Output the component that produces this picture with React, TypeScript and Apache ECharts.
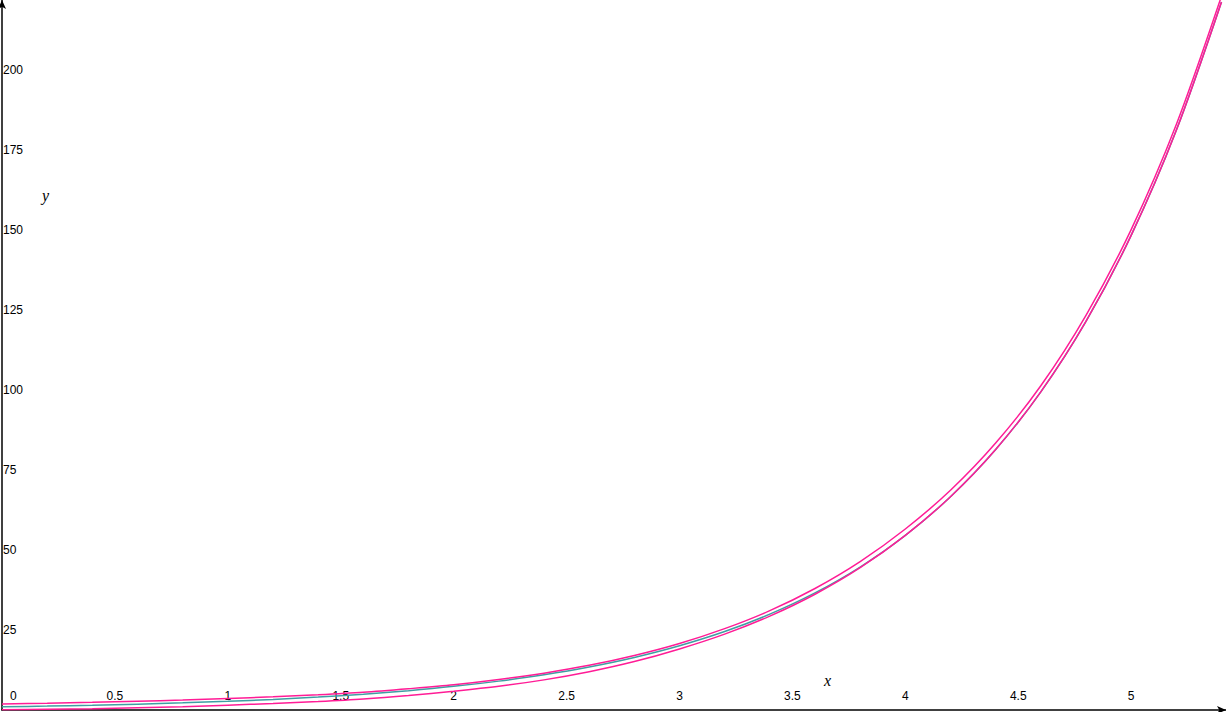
import { useEffect, useRef } from 'react';
import * as echarts from 'echarts';

// x positions (step 0.2)
const xs = [
  0, 0.2, 0.4, 0.6, 0.8, 1.0, 1.2, 1.4, 1.6, 1.8, 2.0, 2.2, 2.4, 2.6,
  2.8, 3.0, 3.2, 3.4, 3.6, 3.8, 4.0, 4.2, 4.4, 4.6, 4.8, 5.0, 5.2, 5.4,
];

// middle curve (teal)
const midValues = [
  1.0, 1.22, 1.49, 1.82, 2.23, 2.72, 3.32, 4.06, 4.95, 6.05, 7.39, 9.03,
  11.02, 13.46, 16.44, 20.09, 24.53, 29.96, 36.6, 44.7, 54.6, 66.69, 81.45,
  99.48, 121.51, 148.41, 181.27, 221.41,
];

// upper band (magenta)
const upperValues = [
  1.9, 2.12, 2.39, 2.72, 3.13, 3.62, 4.12, 4.76, 5.55, 6.65, 7.89, 9.53,
  11.52, 13.96, 17.04, 20.79, 25.43, 31.06, 38.0, 46.4, 56.6, 68.69, 83.45,
  101.38, 123.41, 150.21, 183.07, 223.21,
];

// lower band (magenta)
const lowerValues = [
  0.1, 0.22, 0.39, 0.72, 1.03, 1.52, 2.02, 2.66, 3.45, 4.55, 5.89, 7.43,
  9.42, 11.96, 15.14, 19.09, 23.73, 29.36, 36.2, 44.5, 54.6, 66.69, 81.45,
  99.48, 121.51, 148.41, 181.27, 221.41,
];

const pair = (vals: number[]) => xs.map((x, i) => [x, vals[i]]);

export default function App() {
  const chartRef = useRef<HTMLDivElement>(null);

  useEffect(() => {
    if (!chartRef.current) return;
    const chart = echarts.init(chartRef.current, undefined, { renderer: 'svg' });

    const lineCommon = {
      type: 'line' as const,
      showSymbol: false,
      smooth: 0.3,
      silent: true,
    };

    const labelFont = 'Liberation Sans, Arial, sans-serif';

    const option: echarts.EChartsOption = {
      animation: false,
      backgroundColor: '#ffffff',
      grid: { left: 2, right: 0, top: 0, bottom: 2, containLabel: false },
      xAxis: {
        type: 'value',
        min: 0,
        max: 5.42,
        interval: 0.5,
        axisLine: {
          show: true,
          onZero: false,
          lineStyle: { color: '#000', width: 1.5 },
          symbol: ['none', 'arrow'],
          symbolSize: [6, 9],
        },
        axisTick: { show: false },
        splitLine: { show: false },
        axisLabel: {
          inside: true,
          margin: 8,
          color: '#000',
          fontFamily: labelFont,
          fontSize: 12,
          showMaxLabel: false,
          alignMinLabel: 'left',
          formatter: (v: number) => (v === 0 ? '{z|0}' : String(v)),
          rich: { z: { padding: [0, 0, 0, 8], fontSize: 12, color: '#000', fontFamily: labelFont } },
        },
      },
      yAxis: {
        type: 'value',
        min: 0,
        max: 222,
        interval: 25,
        axisLine: {
          show: true,
          onZero: false,
          lineStyle: { color: '#000', width: 1.5 },
          symbol: ['none', 'arrow'],
          symbolSize: [6, 9],
        },
        axisTick: { show: false },
        splitLine: { show: false },
        axisLabel: {
          inside: true,
          margin: 1,
          color: '#000',
          fontFamily: labelFont,
          fontSize: 12,
          showMinLabel: false,
          showMaxLabel: false,
        },
      },
      graphic: [
        {
          type: 'text',
          left: 42,
          top: 187,
          style: {
            text: 'y',
            fontFamily: 'Liberation Serif, Times New Roman, serif',
            fontStyle: 'italic',
            fontSize: 16,
            fill: '#000',
          },
        },
        {
          type: 'text',
          left: 824,
          top: 672,
          style: {
            text: 'x',
            fontFamily: 'Liberation Serif, Times New Roman, serif',
            fontStyle: 'italic',
            fontSize: 16,
            fill: '#000',
          },
        },
      ],
      series: [
        {
          ...lineCommon,
          name: 'mid',
          data: pair(midValues),
          lineStyle: { color: '#3f9ea3', width: 1.5 },
        },
        {
          ...lineCommon,
          name: 'upper',
          data: pair(upperValues),
          lineStyle: { color: '#ff1c96', width: 1.5 },
        },
        {
          ...lineCommon,
          name: 'lower',
          data: pair(lowerValues),
          lineStyle: { color: '#ff1c96', width: 1.5 },
        },
      ],
    };

    chart.setOption(option);

    return () => {
      chart.dispose();
    };
  }, []);

  return (
    <div
      ref={chartRef}
      style={{ position: 'fixed', left: 0, top: 0, width: '1226px', height: '712px' }}
    />
  );
}
